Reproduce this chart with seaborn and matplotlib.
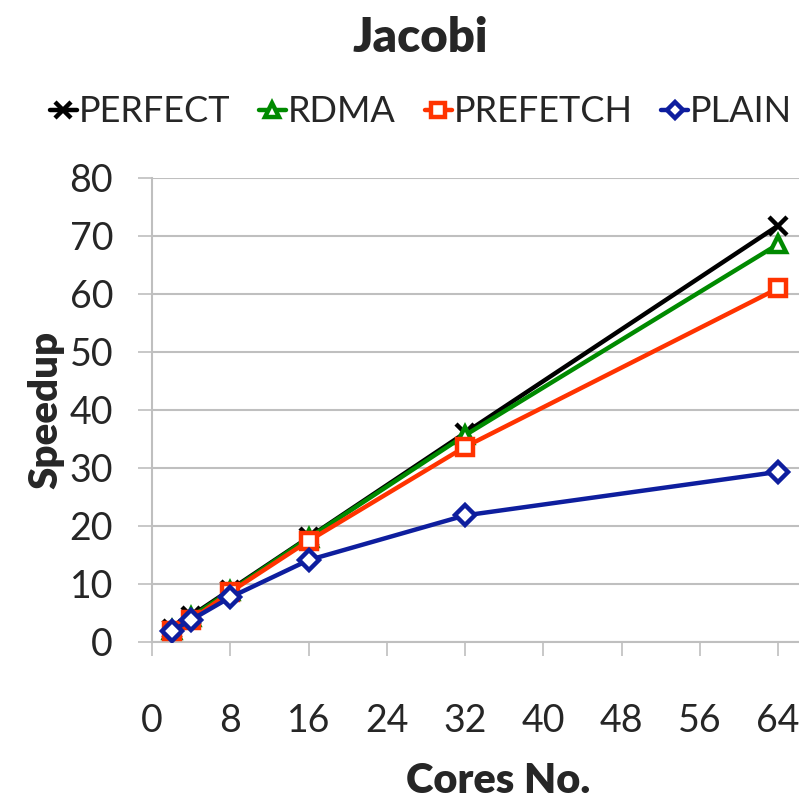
import matplotlib
matplotlib.use("Agg")
import matplotlib.pyplot as plt
import seaborn as sns
import pandas as pd

cores = [2, 4, 8, 16, 32, 64]
perfect = [2.2, 4.5, 9.0, 18.0, 36.0, 71.7]
rdma = [2.1, 4.3, 8.8, 17.9, 35.6, 68.5]
prefetch = [1.9, 3.8, 8.6, 17.4, 33.6, 60.9]
plain = [1.9, 3.8, 7.7, 14.1, 21.8, 29.3]
series_names = ["PERFECT", "RDMA", "PREFETCH", "PLAIN"]
x_ticks = [0, 8, 16, 24, 32, 40, 48, 56, 64]
y_ticks = [0, 10, 20, 30, 40, 50, 60, 70, 80]

sns.set_theme(style="white")
plt.rcParams['font.family'] = ['Lato', 'DejaVu Sans']

fig = plt.figure(figsize=(7.99, 8.01), dpi=100)
ax = fig.add_axes([152/799, 1-642/801, 1-152/799, (642-177.5)/801])

data = {"PERFECT": perfect, "RDMA": rdma, "PREFETCH": prefetch, "PLAIN": plain}
colors = {"PERFECT": "#000000", "RDMA": "#008A00", "PREFETCH": "#FF3300", "PLAIN": "#0E1E9E"}
markers = {"PERFECT": "x", "RDMA": "^", "PREFETCH": "s", "PLAIN": "D"}
msizes = {"PERFECT": 13, "RDMA": 12, "PREFETCH": 12, "PLAIN": 10}

for name in series_names:
    df = pd.DataFrame({"Cores": cores, "Speedup": data[name]})
    sns.lineplot(data=df, x="Cores", y="Speedup", ax=ax, color=colors[name],
                 marker=markers[name], markersize=msizes[name],
                 markerfacecolor=("none" if name == "PERFECT" else "white"),
                 markeredgecolor=colors[name], markeredgewidth=3.2,
                 linewidth=3.2, label=name, zorder=3)

ax.set_xlim(0, 64 * (799 - 152) / (778 - 152))
ax.set_ylim(0, 80)
ax.set_xticks(x_ticks)
ax.set_yticks(y_ticks)
ax.set_xticklabels([str(v) for v in x_ticks])
ax.set_yticklabels([str(v) for v in y_ticks])
ax.grid(axis="y", color="#BFBFBF", linewidth=1.5)
ax.grid(axis="x", visible=False)
for s in ["top", "right"]:
    ax.spines[s].set_visible(False)
for s in ["left", "bottom"]:
    ax.spines[s].set_color("#BFBFBF")
    ax.spines[s].set_linewidth(1.5)
ax.tick_params(axis="x", direction="out", length=10, width=1.2, color="#BFBFBF",
               labelsize=27, pad=34, bottom=True)
ax.tick_params(axis="y", direction="out", length=10, width=1.2, color="#BFBFBF",
               labelsize=27, pad=18, left=True)

ax.set_xlabel("Cores No.", fontsize=30, fontweight="heavy", va="center")
ax.xaxis.set_label_coords((498 - 152) / (799 - 152), (642 - 781) / 464.5)
ax.set_ylabel("Speedup", fontsize=29, fontweight="heavy", labelpad=4)

fig.text(420/799, 1-38/801, "Jacobi", ha="center", va="center",
         fontsize=34, fontweight="heavy")

leg = ax.legend(loc="center", bbox_to_anchor=(421/799, 1-112/801),
                bbox_transform=fig.transFigure, ncol=4, frameon=False,
                fontsize=26, handlelength=0.75, handletextpad=0.05,
                columnspacing=0.8, markerscale=0.85)

fig.savefig("out.png", dpi=100)
